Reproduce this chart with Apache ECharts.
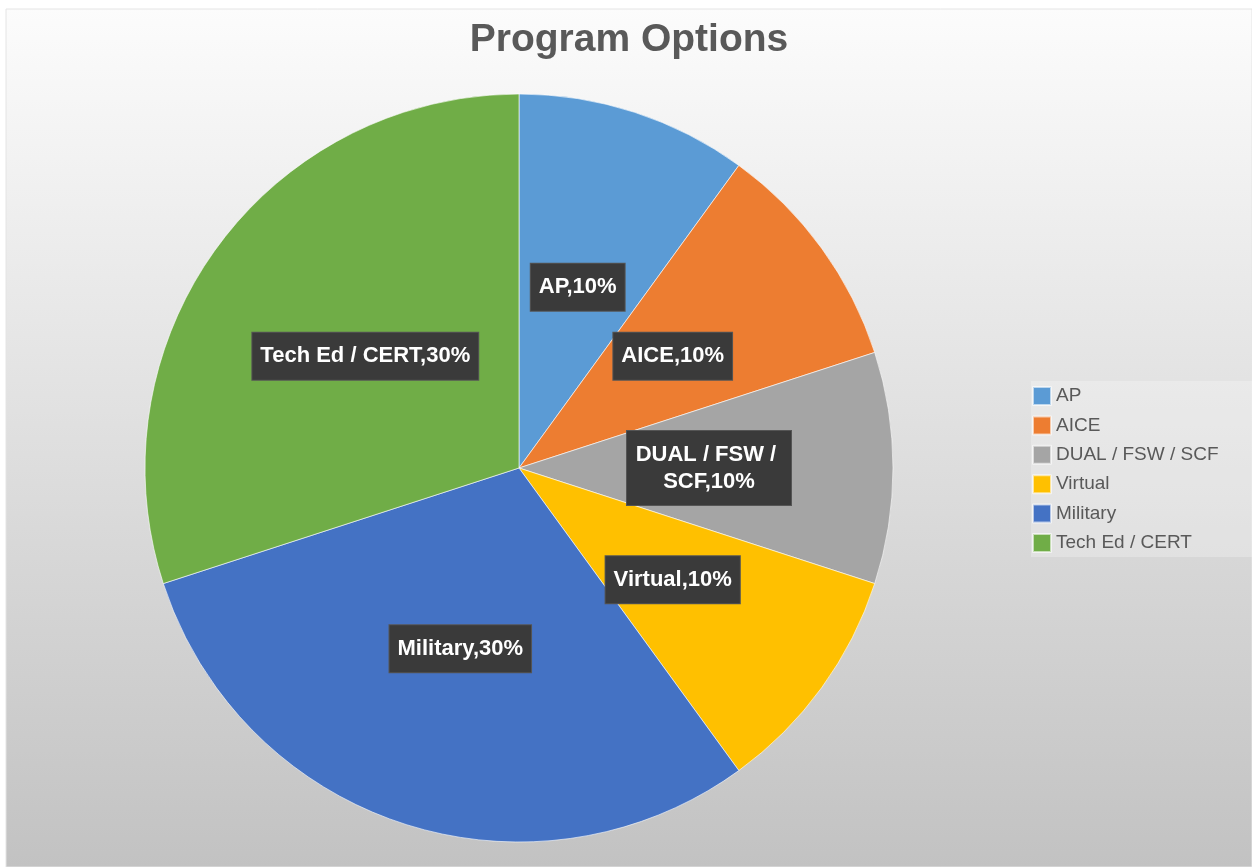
<!DOCTYPE html>
<html>
<head>
<meta charset="utf-8">
<script src="https://cdn.jsdelivr.net/npm/echarts@6/dist/echarts.min.js"></script>
<style>
    html, body { margin: 0; padding: 0; background: #fff; }
    #chart { width: 1252px; height: 867px; }
</style>
</head>
<body>
<div id="chart"></div>
<script>
// slices
let categories = ['AP', 'AICE', 'DUAL / FSW / SCF', 'Virtual', 'Military', 'Tech Ed / CERT'];
let values = [1, 1, 1, 1, 3, 3];
let colors = ['#5b9bd5', '#ed7d31', '#a5a5a5', '#ffc000', '#4472c4', '#70ad47'];

let font = '"Liberation Sans", Arial, sans-serif';

let pieData = categories.map((name, i) => {
    let item = { name: name, value: values[i] };
    // long label wraps onto two lines
    if (name === 'DUAL / FSW / SCF') {
        item.label = { width: 148, overflow: 'break' };
    }
    return item;
});

let myChart = echarts.init(document.getElementById('chart'));

let option = {
    backgroundColor: '#fff',
    color: colors,
    animation: false,
    graphic: [{
        type: 'rect',
        z: -10,
        shape: { x: 6, y: 9, width: 1246, height: 858 },
        style: {
            fill: new echarts.graphic.LinearGradient(0, 0, 0, 1, [
                { offset: 0, color: '#fcfcfc' },
                { offset: 0.45, color: '#e2e2e2' },
                { offset: 1, color: '#c2c2c2' }
            ]),
            stroke: '#e4e4e4',
            lineWidth: 1
        }
    }],
    title: {
        text: 'Program Options',
        left: 629,
        textAlign: 'center',
        top: 21,
        padding: 0,
        textStyle: {
            fontFamily: font,
            fontSize: 39,
            fontWeight: 'bold',
            color: '#595959'
        }
    },
    legend: {
        orient: 'vertical',
        left: 1031,
        top: 381,
        padding: [5, 60, 4, 1],
        backgroundColor: 'rgba(255,255,255,0.25)',
        itemWidth: 18,
        itemHeight: 18,
        itemGap: 9.4,
        icon: 'rect',
        data: categories,
        textStyle: {
            fontFamily: font,
            fontSize: 19,
            color: '#595959'
        }
    },
    series: [{
        type: 'pie',
        center: [519, 468],
        radius: 374,
        startAngle: 90,
        clockwise: true,
        data: pieData,
        itemStyle: {
            borderColor: 'rgba(255,255,255,0.6)',
            borderWidth: 1
        },
        label: {
            position: 'inside',
            formatter: p => p.name + ',' + Math.round(p.percent) + '%',
            fontFamily: font,
            fontSize: 22,
            fontWeight: 'bold',
            color: '#fff',
            lineHeight: 27,
            backgroundColor: '#3a3a3a',
            borderColor: '#555',
            borderWidth: 1,
            padding: [10, 8]
        },
        labelLine: { show: false },
        emphasis: { disabled: true }
    }]
};

myChart.setOption(option);
</script>
</body>
</html>
